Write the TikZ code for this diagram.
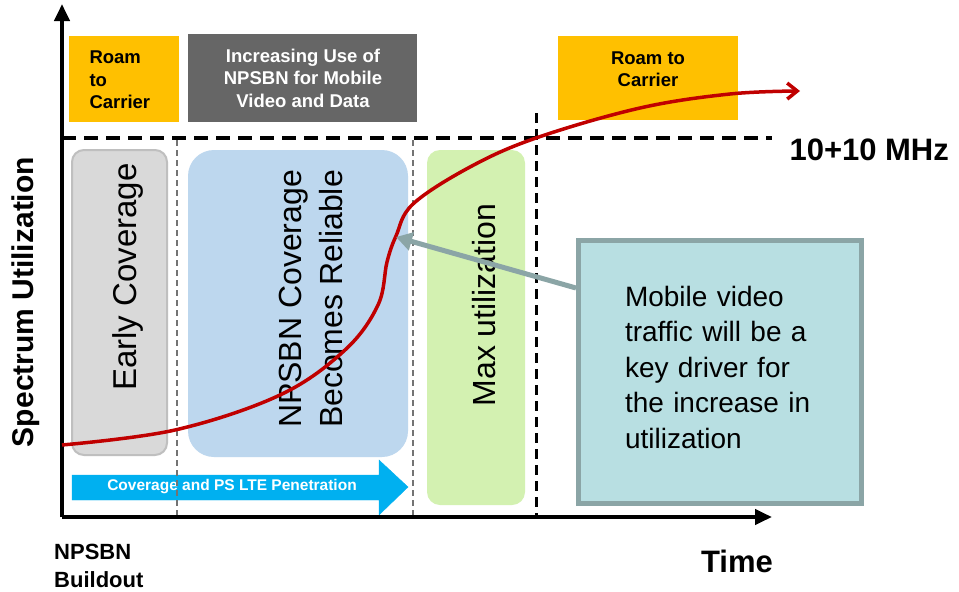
\documentclass[tikz,border=0pt]{standalone}
\usepackage{fontspec}
\setmainfont{Liberation Sans}
\usepackage{xcolor}
\usetikzlibrary{arrows.meta,positioning,calc}
\definecolor{roamyellow}{HTML}{FFC000}
\definecolor{usegray}{HTML}{666666}
\definecolor{earlygray}{HTML}{D9D9D9}
\definecolor{earlyline}{HTML}{BFBFBF}
\definecolor{reliableblue}{HTML}{BDD7EE}
\definecolor{maxgreen}{HTML}{D3F1B1}
\definecolor{lteblue}{HTML}{00B0F0}
\definecolor{calloutfill}{HTML}{B8DFE2}
\definecolor{calloutline}{HTML}{8BA5A6}
\definecolor{curvered}{HTML}{C00000}
\tikzstyle{axis}=[line width=4pt, -{Triangle[length=17pt,width=15pt]}]
\tikzstyle{limit}=[line width=3.5pt, dash pattern=on 14pt off 8pt]
\tikzstyle{phaseline}=[line width=1.5pt, draw=black!55, dash pattern=on 6pt off 4pt]
\tikzstyle{maxline}=[line width=3pt, dash pattern=on 10pt off 6pt]
\tikzstyle{phasetext}=[rotate=90, align=center, font=\fontsize{32}{41}\selectfont]
\tikzstyle{toplabel}=[align=center, font=\bfseries\fontsize{18.5}{22.5}\selectfont]
\tikzstyle{axislabel}=[font=\bfseries\fontsize{31}{34}\selectfont]
\newcommand{\phasebox}[5]{
 \filldraw[#1, rounded corners=#2] #3 rectangle #4;
 \node[phasetext] #5;
}

\begin{document}
\begin{tikzpicture}[x=1pt, y=-1pt]
 \useasboundingbox[fill=white] (0,0) rectangle (959,592);
% banners above the limit
 \fill[roamyellow] (69,36) rectangle (179,122);
 \node[toplabel, align=left, anchor=west] (roamleft) at (86,80) {Roam\\to\\Carrier};
 \fill[usegray] (188,34) rectangle (417,122);
 \node[toplabel, text=white] (usegrowth) at (303,78) {Increasing Use of\\NPSBN for Mobile\\Video and Data};
 \fill[roamyellow] (558,36) rectangle (738,120);
 \node[toplabel] (roamright) at (648,69) {Roam to\\Carrier};
%
 \phasebox{fill=earlygray, draw=earlyline, line width=2pt}{12pt}{(72,150)}{(167,455)}{(early) at (128,277) {\fontsize{33}{40}\selectfont Early Coverage}}
 \phasebox{fill=reliableblue, draw=none}{26pt}{(188,150)}{(408,457)}{(reliable) at (311,299) {NPSBN Coverage\\Becomes Reliable}}
 \phasebox{fill=maxgreen, draw=none}{13pt}{(427,150)}{(525,505)}{(maxuse) at (484,305) {Max utilization}}
%
 \filldraw[lteblue] (72,475) -- (379,475) -- (379,460) -- (408,487) -- (379,515) -- (379,500) -- (72,500) -- cycle;
 \node[text=white, font=\bfseries\fontsize{15.5}{17}\selectfont] (penetration) at (232,487) {Coverage and PS LTE Penetration};
%
 \draw[phaseline] (177,140) -- (177,517);
 \draw[phaseline] (413,140) -- (413,517);
 \draw[maxline] (536,113) -- (536,517);
 \draw[limit] (62,138) -- (772,138);
 \node[axislabel, anchor=west] (capacity) at (786,150) {10+10 MHz};
%
 \coordinate (origin) at (62,517);
 \draw[axis] (origin) -- (62,4);
 \draw[axis] (origin) -- (772,517);
 \node[axislabel, rotate=90, font=\bfseries\fontsize{30}{30}\selectfont] (yaxis) at (26,302) {Spectrum Utilization};
 \node[axislabel] (xaxis) at (737,561) {Time};
 \node[align=left, anchor=west, inner sep=0pt, font=\bfseries\fontsize{22}{28}\selectfont] (buildout) at (54,566) {NPSBN\\Buildout};
%
 \draw[curvered, line width=3.5pt, -{Straight Barb[length=10pt,width=16pt]}]
  plot[smooth, tension=0.6] coordinates {(62,445) (175,430) (280,395) (345,350) (378,305) (387,262) (396,236) (413,204) (470,167) (536,138) (640,108) (730,94) (800,91)};
 \coordinate (steep) at (396,237);
%
 \node[draw=calloutline, fill=calloutfill, line width=5pt, minimum width=283pt, minimum height=263pt,
  text width=190pt, inner xsep=45pt, align=left, font=\fontsize{28}{35.5}\selectfont] (callout) at (720,372)
  {Mobile video\\traffic will be a\\key driver for\\the increase in\\utilization\vspace{10pt}};
 \draw[calloutline, line width=5pt, -{Triangle[length=16pt,width=18pt]}] ($(callout.north west)+(0,50)$) -- (steep);
\end{tikzpicture}
\end{document}
